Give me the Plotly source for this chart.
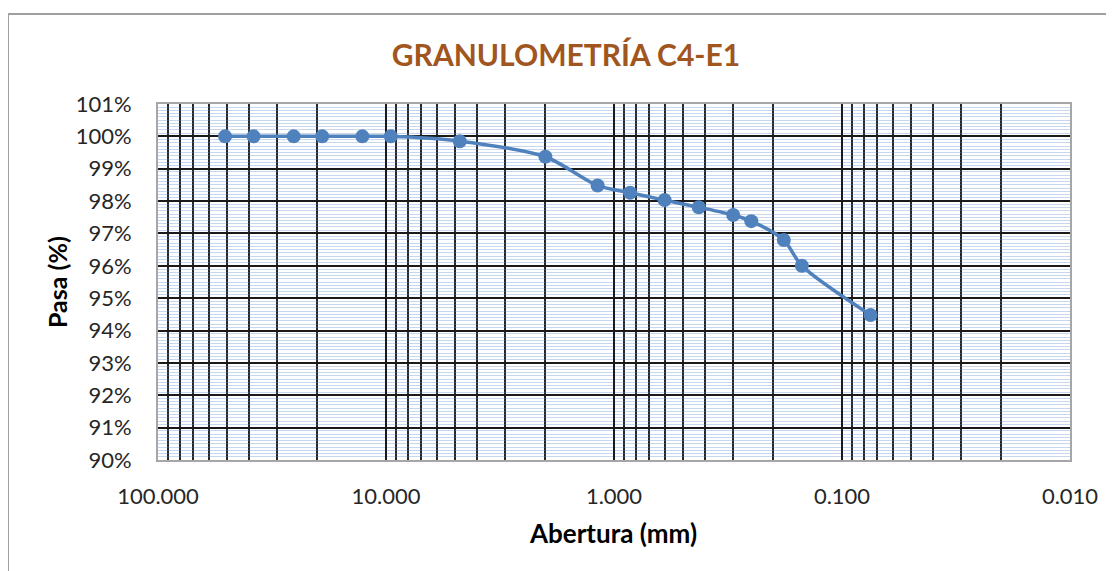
import plotly.graph_objects as go

# tamices (mm) y porcentaje que pasa
abertura_mm = [50.8, 38.1, 25.4, 19.05, 12.7, 9.525, 4.75, 2.0, 1.18, 0.85,
               0.6, 0.425, 0.3, 0.25, 0.18, 0.15, 0.075]
pasa = [1.000, 1.000, 1.000, 1.000, 1.000, 1.000, 0.9985, 0.9937, 0.9848, 0.9826,
        0.9803, 0.9781, 0.9757, 0.9738, 0.9680, 0.9600, 0.9448]

x_tickvals = [100, 10, 1, 0.1, 0.01]
x_ticktext = ['100.000', '10.000', '1.000', '0.100', '0.010']

font_fam = 'Lato, Open Sans, sans-serif'

# la pagina tiene 8px de margen en el body
off = 8

fig = go.Figure(
    data=[
        go.Scatter(
            x=abertura_mm,
            y=pasa,
            mode='lines+markers',
            line=dict(color='#4F81BD', width=3.5, shape='spline', smoothing=0.8),
            marker=dict(color='#4F81BD', size=14),
            showlegend=False,
        )
    ]
)

fig.update_layout(
    width=1114,
    height=571,
    margin=dict(l=158 - off, r=1114 + off - 1070, t=104 - off, b=571 + off - 460),
    paper_bgcolor='white',
    plot_bgcolor='white',
    font=dict(family=font_fam, size=22, color='#262626'),
    title=dict(
        text='<b>GRANULOMETRÍA C4-E1</b>',
        x=(566 - off) / 1114, xref='container', xanchor='center',
        y=1 - (55 - off) / 571, yref='container', yanchor='middle',
        font=dict(family=font_fam, size=30, color='#A0561E'),
    ),
)

fig.update_xaxes(
    type='log',
    range=[2, -2],
    tickvals=x_tickvals,
    ticktext=x_ticktext,
    ticks='outside', ticklen=16, tickcolor='rgba(0,0,0,0)',
    showgrid=True, gridcolor='#1a1a1a', gridwidth=1.5,
    minor=dict(dtick='D1', showgrid=True, gridcolor='#262626', gridwidth=1.5),
    showline=True, linecolor='#A6A6A6', linewidth=2, mirror=True,
    zeroline=False,
)

fig.update_yaxes(
    range=[0.90, 1.01],
    dtick=0.01,
    tickformat='.0%',
    ticks='outside', ticklen=20, tickcolor='rgba(0,0,0,0)',
    showgrid=True, gridcolor='#1a1a1a', gridwidth=1.5,
    minor=dict(dtick=0.001, showgrid=True, gridcolor='rgba(95,140,205,0.35)', gridwidth=1),
    showline=True, linecolor='#A6A6A6', linewidth=2, mirror=True,
    zeroline=False,
)

# titulos de ejes
fig.add_annotation(
    text='<b>Abertura (mm)</b>', xref='paper', yref='paper',
    x=(613 - 158) / 912, y=-(533 - 460) / 356,
    xanchor='center', yanchor='middle',
    showarrow=False, font=dict(family=font_fam, size=26, color='black'),
)
fig.add_annotation(
    text='<b>Pasa (%)</b>', xref='paper', yref='paper',
    x=-(158 - 57) / 912, y=(460 - 282) / 356, textangle=-90,
    xanchor='center', yanchor='middle',
    showarrow=False, font=dict(family=font_fam, size=25, color='black'),
)

# borde del area del grafico
fig.add_shape(
    type='rect', xref='paper', yref='paper',
    x0=-(158 - 8) / 912, x1=1.3, y0=-0.6, y1=(460 - 14) / 356,
    line=dict(color='#A0A0A0', width=2), fillcolor='rgba(0,0,0,0)', layer='below',
)

fig.write_html('out.html')
